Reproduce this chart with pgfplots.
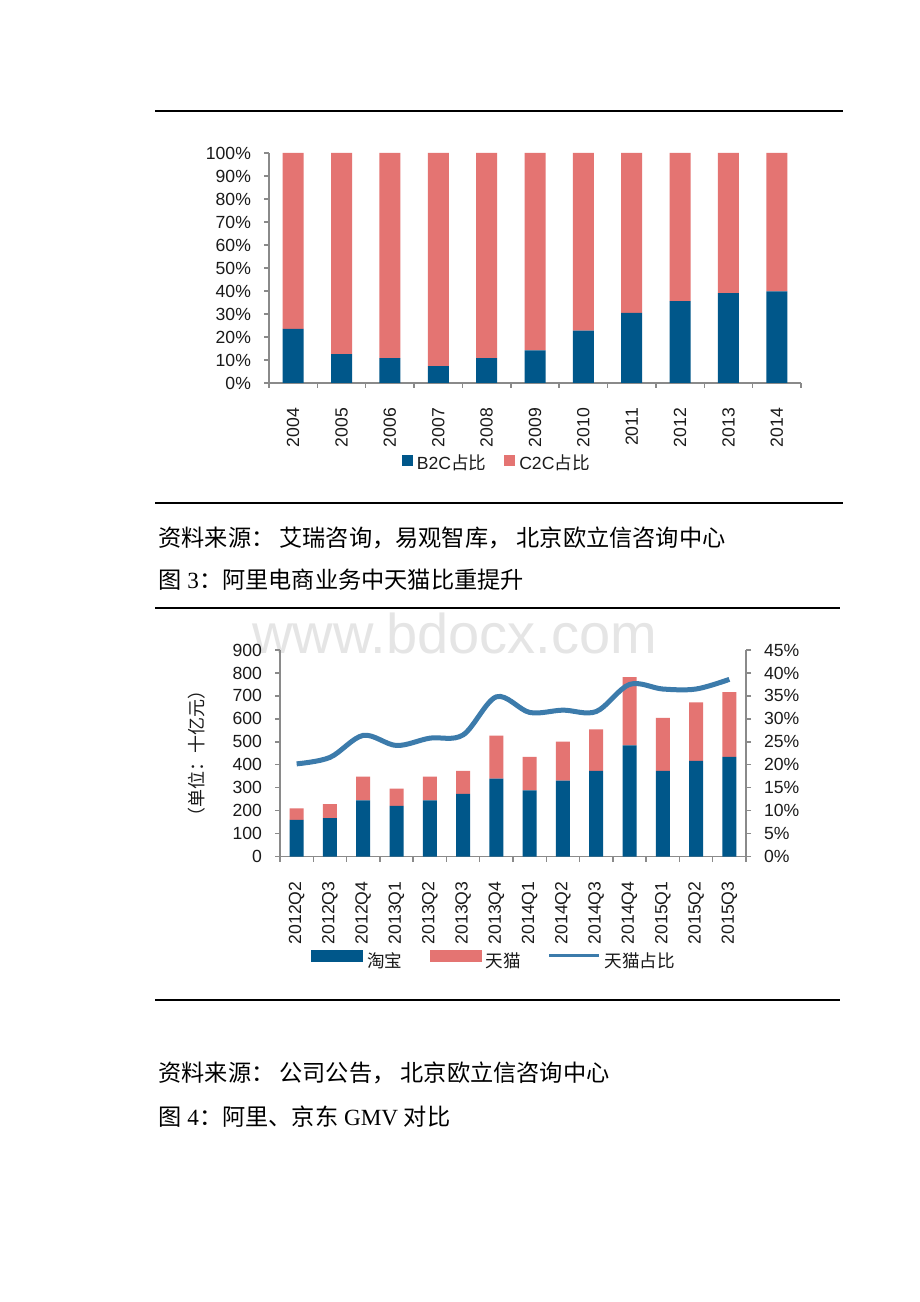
\documentclass[border=0pt]{standalone}
\usepackage{pgfplots}
\pgfplotsset{compat=1.18}
\usepackage{fontspec}
\setmainfont{Liberation Serif}
\setsansfont{Liberation Sans}
\newfontfamily\cjk{Noto Sans CJK SC}
\definecolor{barblue}{HTML}{00578A}
\definecolor{barpink}{HTML}{E47472}
\definecolor{lineblue}{HTML}{3C7BAB}
\definecolor{axgray}{HTML}{8A8A8A}
\definecolor{txt}{HTML}{1A1A1A}
\pgfplotstableread{
x b2c c2c
0 23.5 76.5
1 12.5 87.5
2 10.8 89.2
3 7.3 92.7
4 10.8 89.2
5 14.2 85.8
6 22.8 77.2
7 30.5 69.5
8 35.6 64.4
9 39.1 60.9
10 39.8 60.2
}\shares
\pgfplotstableread{
x taobao tmall share
0 160 50 20.2
1 168 61 21.6
2 245 103 26.4
3 221 75 24.2
4 245 103 25.8
5 273 100 26.5
6 340 187 34.8
7 289 145 31.4
8 331 170 31.9
9 373 181 31.6
10 485 297 37.5
11 373 231 36.5
12 417 255 36.5
13 434 283 38.6
}\gmv
\pgfplotsset{
  common/.style={
    scale only axis,
    axis line style={axgray, line width=0.7pt},
    every tick/.style={axgray, line width=0.7pt},
    major tick length=2.5pt,
    tick align=outside,
    tick label style={font=\fontsize{8.8}{10}\selectfont\sffamily, text=txt},
    /pgf/number format/assume math mode=true,
    x tick label as interval,
    xticklabel style={yshift=-6.5pt, rotate=90, anchor=east},
  },
  sqleg/.style={legend image code/.code={\fill[##1] (0pt,-1.5pt) rectangle (5.5pt,4pt);}},
  rectleg/.style={legend image code/.code={\fill[##1] (0pt,0pt) rectangle (26pt,6pt);}},
  lineleg/.style={legend image code/.code={\draw[##1] (0pt,3pt) -- (25pt,3pt);}},
}
\begin{document}
\begin{tikzpicture}
\useasboundingbox[fill=white] (0,0) rectangle (460pt,651pt);
% watermark
\node[anchor=base west, inner sep=0, text=black!10, font=\fontsize{28}{30}\selectfont\sffamily] at (126pt,324pt) {www.bdocx.com};
% rules
\draw[line width=1pt] (77.5pt,595.5pt) -- (421.5pt,595.5pt);
\draw[line width=1pt] (77.5pt,399.5pt) -- (421.5pt,399.5pt);
\draw[line width=1pt] (77.5pt,347pt) -- (420pt,347pt);
\draw[line width=1pt] (77.5pt,151pt) -- (420pt,151pt);
% texts
\node[anchor=west, inner sep=0, font=\fontsize{11.6}{13}\selectfont] at (79pt,382pt) {\cjk 资料来源： 艾瑞咨询，易观智库， 北京欧立信咨询中心};
\node[anchor=west, inner sep=0, font=\fontsize{11.6}{13}\selectfont] at (79pt,361pt) {{\cjk 图} 3{\cjk ：阿里电商业务中天猫比重提升}};
\node[anchor=west, inner sep=0, font=\fontsize{11.6}{13}\selectfont] at (79pt,114.5pt) {\cjk 资料来源： 公司公告， 北京欧立信咨询中心};
\node[anchor=west, inner sep=0, font=\fontsize{11.6}{13}\selectfont] at (79pt,92.5pt) {{\cjk 图} 4{\cjk ：阿里、京东} GMV {\cjk 对比}};

% chart 1
\begin{axis}[common,
  at={(134.5pt,459.5pt)}, anchor=south west,
  width=266pt, height=115pt,
  ybar stacked, bar width=10.5pt,
  xmin=-0.5, xmax=10.5, ymin=0, ymax=100,
  axis x line*=bottom, axis y line*=left,
  xtick={-0.5,0.5,...,10.5},
  xticklabels={2004,2005,2006,2007,2008,2009,2010,2011,2012,2013,2014},
  ytick={0,10,...,100},
  yticklabel={\pgfmathprintnumber{\tick}\%},
  yticklabel style={xshift=-3pt},
  legend style={at={(0.43,-0.35)}, anchor=center, legend columns=-1, draw=none, fill=none,
    font=\fontsize{8.8}{10}\selectfont\sffamily, text=txt,
    /tikz/every even column/.append style={column sep=7pt}},
]
\addplot[fill=barblue, draw=none, sqleg] table[x=x,y=b2c]{\shares};
\addplot[fill=barpink, draw=none, sqleg] table[x=x,y=c2c]{\shares};
\legend{B2C{\cjk 占比},C2C{\cjk 占比}}
\end{axis}

% chart 2 left
\begin{axis}[common,
  at={(140pt,222.7pt)}, anchor=south west,
  width=233pt, height=103.3pt,
  ybar stacked, bar width=7pt,
  xmin=-0.5, xmax=13.5, ymin=0, ymax=900,
  axis x line*=bottom, axis y line*=left,
  xtick={-0.5,0.5,...,13.5},
  xticklabels={2012Q2,2012Q3,2012Q4,2013Q1,2013Q2,2013Q3,2013Q4,2014Q1,2014Q2,2014Q3,2014Q4,2015Q1,2015Q2,2015Q3},
  ytick={0,100,...,900},
  yticklabel style={xshift=-3pt},
  ylabel={\cjk （单位：十亿元）},
  ylabel style={at={(axis description cs:-0.178,0.5)}, anchor=center, font=\fontsize{9}{10}\selectfont, text=txt},
  legend style={at={(0.462,-0.51)}, anchor=center, legend columns=-1, draw=none, fill=none,
    font=\fontsize{8.8}{10}\selectfont\sffamily, text=txt,
    /tikz/every even column/.append style={column sep=11.5pt}},
]
\addplot[fill=barblue, draw=none, rectleg] table[x=x,y=taobao]{\gmv};
\addplot[fill=barpink, draw=none, rectleg] table[x=x,y=tmall]{\gmv};
\addlegendimage{lineblue, line width=1.5pt, lineleg}
\legend{{\cjk 淘宝},{\cjk 天猫},{\cjk 天猫占比}}
\end{axis}

% chart 2 right
\begin{axis}[common,
  at={(140pt,222.7pt)}, anchor=south west,
  width=233pt, height=103.3pt,
  xmin=-0.5, xmax=13.5, ymin=0, ymax=45,
  axis x line=none, axis y line*=right,
  ytick={0,5,...,45},
  yticklabel={\pgfmathprintnumber{\tick}\%},
  yticklabel style={xshift=3pt},
]
\addplot[lineblue, line width=2.5pt, smooth, tension=0.55] table[x=x,y=share]{\gmv};
\end{axis}
\end{tikzpicture}
\end{document}
